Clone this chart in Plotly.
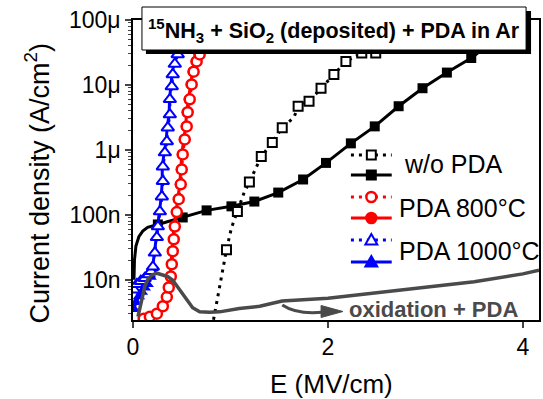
import plotly.graph_objects as go

# ---------------- data ----------------
# w/o PDA, solid line with filled squares
wo_solid_line_x = [0.01, 0.015, 0.03, 0.06, 0.10, 0.15, 0.255, 0.51, 0.755, 1.01, 1.245, 1.49, 1.745,
                   1.98, 2.235, 2.48, 2.725, 2.97, 3.22, 3.47, 3.55]
wo_solid_line_y = [1.0e-8, 2.0e-8, 3.3e-8, 4.6e-8, 5.6e-8, 6.4e-8, 7.1e-8, 9.1e-8, 1.17e-7, 1.35e-7, 1.6e-7,
                   2.2e-7, 3.5e-7, 6.3e-7, 1.26e-6, 2.3e-6, 4.7e-6, 8.9e-6, 1.55e-5, 2.6e-5, 3.2e-5]
wo_solid_mark_x = [0.255, 0.51, 0.755, 1.01, 1.245, 1.49, 1.745, 1.98, 2.235, 2.48, 2.725, 2.97, 3.22, 3.47]
wo_solid_mark_y = [7.1e-8, 9.1e-8, 1.17e-7, 1.35e-7, 1.6e-7, 2.2e-7, 3.5e-7, 6.3e-7, 1.26e-6, 2.3e-6,
                   4.7e-6, 8.9e-6, 1.55e-5, 2.6e-5]

# w/o PDA, dotted line with open squares
wo_dot_line_x = [0.826, 0.888, 0.939, 0.959, 1.01, 1.071, 1.14, 1.194, 1.316, 1.429, 1.531, 1.653, 1.694,
                 1.806, 1.929, 2.061, 2.184, 2.347, 2.49]
wo_dot_line_y = [2.42e-9, 7.8e-9, 2.0e-8, 2.9e-8, 6.3e-8, 1.12e-7, 2.2e-7, 3.2e-7, 7.9e-7, 1.3e-6, 2.2e-6,
                 3.2e-6, 4.7e-6, 5.6e-6, 8.9e-6, 1.45e-5, 2.3e-5, 3.1e-5, 3.1e-5]
wo_dot_mark_x = [0.959, 1.071, 1.194, 1.316, 1.429, 1.531, 1.694, 1.806, 1.929, 2.061, 2.184, 2.347, 2.49]
wo_dot_mark_y = [2.9e-8, 1.12e-7, 3.2e-7, 7.9e-7, 1.3e-6, 2.2e-6, 4.7e-6, 5.6e-6, 8.9e-6, 1.45e-5, 2.3e-5,
                 3.1e-5, 3.1e-5]

# PDA 800 C (open circles dotted / filled circles solid)
r800_open_x = [0.11, 0.173, 0.245, 0.306, 0.347, 0.367, 0.388, 0.398, 0.408, 0.418, 0.429, 0.449, 0.469,
               0.49, 0.50, 0.51, 0.531, 0.551, 0.561, 0.582, 0.602, 0.622, 0.653, 0.684]
r800_open_y = [2.5e-9, 2.7e-9, 3.0e-9, 3.9e-9, 5.4e-9, 7.6e-9, 1.12e-8, 1.73e-8, 2.75e-8, 4.2e-8, 6.6e-8,
               1.1e-7, 1.74e-7, 2.95e-7, 5.0e-7, 8.5e-7, 1.45e-6, 2.3e-6, 3.8e-6, 6.0e-6, 1.02e-5, 1.6e-5,
               2.3e-5, 2.95e-5]
r800_fill_x = [0.12, 0.18, 0.25, 0.30, 0.34, 0.36, 0.38, 0.39, 0.40, 0.41, 0.42, 0.44, 0.46, 0.48, 0.49,
               0.50, 0.52, 0.54, 0.55, 0.57, 0.59, 0.61, 0.64, 0.67]
r800_fill_y = r800_open_y

# PDA 1000 C (open triangles dotted / filled triangles solid)
b1000_open_x = [0.01, 0.04, 0.08, 0.12, 0.16, 0.185, 0.204, 0.224, 0.245, 0.255, 0.276, 0.296, 0.306,
                0.306, 0.327, 0.347, 0.357, 0.378, 0.378, 0.398, 0.408, 0.429, 0.459]
b1000_open_y = [7.0e-9, 8.5e-9, 9.5e-9, 1.05e-8, 1.2e-8, 1.35e-8, 1.58e-8, 2.6e-8, 4.5e-8, 6.6e-8, 1.12e-7,
                1.9e-7, 3.3e-7, 5.5e-7, 9.1e-7, 1.35e-6, 2.2e-6, 3.5e-6, 6.0e-6, 9.5e-6, 1.45e-5, 2.1e-5,
                2.95e-5]
b1000_fill_x = [0.01, 0.03, 0.06, 0.09, 0.12, 0.15, 0.18, 0.20, 0.22, 0.24, 0.25, 0.27, 0.29, 0.30, 0.30,
                0.32, 0.34, 0.35, 0.37, 0.375, 0.39, 0.40, 0.42, 0.45]
b1000_fill_y = [3.5e-9, 4.5e-9, 5.5e-9, 6.5e-9, 7.5e-9, 8.5e-9, 1.1e-8, 1.5e-8, 2.6e-8, 4.5e-8, 6.6e-8,
                1.12e-7, 1.9e-7, 3.3e-7, 5.5e-7, 9.1e-7, 1.35e-6, 2.2e-6, 3.5e-6, 6.0e-6, 9.5e-6, 1.45e-5,
                2.1e-5, 2.95e-5]

# oxidation + PDA (grey line)
ox_x = [0.051, 0.071, 0.092, 0.122, 0.153, 0.194, 0.245, 0.296, 0.357, 0.408, 0.459, 0.51, 0.561, 0.612,
        0.684, 0.786, 0.888, 1.09, 1.30, 1.53, 2.0, 2.5, 3.0, 3.5, 4.0, 4.165]
ox_y = [2.7e-9, 3.7e-9, 5.0e-9, 8.0e-9, 1.02e-8, 1.18e-8, 1.26e-8, 1.2e-8, 1.12e-8, 9.8e-9, 7.6e-9, 5.9e-9,
        4.7e-9, 3.7e-9, 3.2e-9, 3.15e-9, 3.2e-9, 3.6e-9, 3.9e-9, 4.7e-9, 5.2e-9, 6.3e-9, 7.6e-9, 9.3e-9,
        1.23e-8, 1.4e-8]

y_tickvals = [1e-8, 1e-7, 1e-6, 1e-5, 1e-4]
y_ticktext = ["10n", "100n", "1μ", "10μ", "100μ"]
x_tickvals = [0, 2, 4]

legend_labels = ["w/o PDA", "PDA 800°C", "PDA 1000°C"]

# ---------------- figure ----------------
W, H = 543, 399
L, R, T, B = 133, 2, 20, 79
PW, PH = W - L - R, H - T - B
FONT = "Liberation Sans, Arial, sans-serif"
DOT = "3px,5px"
RED = "#ff0000"
BLUE = "#0000ff"
GREY = "#4a4a4a"

# minor log ticks (2..9 in every decade)
minor_vals = [m * 10.0 ** e for e in range(-9, -4) for m in range(2, 10)]


def px(xp):
    return (xp - L) / PW


def py(yp):
    return (H - B - yp) / PH


fig = go.Figure()

# black solid
fig.add_trace(go.Scatter(x=wo_solid_line_x, y=wo_solid_line_y, mode="lines",
                         line=dict(color="black", width=3), showlegend=False))
fig.add_trace(go.Scatter(x=wo_solid_mark_x, y=wo_solid_mark_y, mode="markers",
                         marker=dict(symbol="square", size=10, color="black"), showlegend=False))
# black dotted
fig.add_trace(go.Scatter(x=wo_dot_line_x, y=wo_dot_line_y, mode="lines",
                         line=dict(color="black", width=3, dash=DOT), showlegend=False))
fig.add_trace(go.Scatter(x=wo_dot_mark_x, y=wo_dot_mark_y, mode="markers",
                         marker=dict(symbol="square", size=9, color="white",
                                     line=dict(color="black", width=2)), showlegend=False))
# red
fig.add_trace(go.Scatter(x=r800_fill_x, y=r800_fill_y, mode="lines+markers",
                         line=dict(color=RED, width=3),
                         marker=dict(symbol="circle", size=10, color=RED), showlegend=False))
fig.add_trace(go.Scatter(x=r800_open_x, y=r800_open_y, mode="lines+markers",
                         line=dict(color=RED, width=3, dash=DOT),
                         marker=dict(symbol="circle", size=10, color="white",
                                     line=dict(color=RED, width=2.5)), showlegend=False))
# blue
fig.add_trace(go.Scatter(x=b1000_fill_x, y=b1000_fill_y, mode="lines+markers",
                         line=dict(color=BLUE, width=3),
                         marker=dict(symbol="triangle-up", size=11, color=BLUE), showlegend=False))
fig.add_trace(go.Scatter(x=b1000_open_x, y=b1000_open_y, mode="lines+markers",
                         line=dict(color=BLUE, width=3, dash=DOT),
                         marker=dict(symbol="triangle-up", size=11, color="white",
                                     line=dict(color=BLUE, width=2)), showlegend=False))
# grey
fig.add_trace(go.Scatter(x=ox_x, y=ox_y, mode="lines", line=dict(color=GREY, width=3.5),
                         showlegend=False))

shapes = []
annotations = []

# title box with shadow
shapes.append(dict(type="rect", xref="paper", yref="paper", x0=px(146), x1=px(533), y0=py(54), y1=py(11),
                   fillcolor="black", line=dict(width=0), layer="above"))
shapes.append(dict(type="rect", xref="paper", yref="paper", x0=px(142), x1=px(528), y0=py(50), y1=py(7),
                   fillcolor="white", line=dict(color="black", width=1), layer="above"))
annotations.append(dict(xref="paper", yref="paper", x=px(335), y=py(30), xanchor="center", yanchor="middle",
                        text="<b><sup>15</sup>NH<sub>3</sub> + SiO<sub>2</sub> (deposited) + PDA in Ar</b>",
                        showarrow=False, font=dict(size=21.5, color="black", family=FONT)))

# custom legend
rows = [
    (155, "black", DOT, "sq_open"), (175, "black", "solid", "sq_fill"),
    (197, RED, DOT, "ci_open"), (218, RED, "solid", "ci_fill"),
    (240, BLUE, DOT, "tr_open"), (262, BLUE, "solid", "tr_fill"),
]
lx0, lx1, lxc = 352, 393, 372.5
for yr, col, dash, sym in rows:
    shapes.append(dict(type="line", xref="paper", yref="paper", x0=px(lx0), x1=px(lx1), y0=py(yr), y1=py(yr),
                       line=dict(color=col, width=3, dash=dash), layer="above"))
    if sym.startswith("sq"):
        s = 4.5
        shapes.append(dict(type="rect", xref="paper", yref="paper", x0=px(lxc - s), x1=px(lxc + s),
                           y0=py(yr + s), y1=py(yr - s),
                           fillcolor="white" if sym.endswith("open") else col,
                           line=dict(color=col, width=2), layer="above"))
    elif sym.startswith("ci"):
        s = 5
        shapes.append(dict(type="circle", xref="paper", yref="paper", x0=px(lxc - s), x1=px(lxc + s),
                           y0=py(yr + s), y1=py(yr - s),
                           fillcolor="white" if sym.endswith("open") else col,
                           line=dict(color=col, width=2.5), layer="above"))
    else:
        s = 6
        path = "M{:.5f},{:.5f} L{:.5f},{:.5f} L{:.5f},{:.5f} Z".format(
            px(lxc - s), py(yr + s * 0.75), px(lxc + s), py(yr + s * 0.75), px(lxc), py(yr - s))
        shapes.append(dict(type="path", xref="paper", yref="paper", path=path,
                           fillcolor="white" if sym.endswith("open") else col,
                           line=dict(color=col, width=2), layer="above"))

legend_pos = [(403, 164), (398, 208), (398, 251)]
for (xl, yl), lab in zip(legend_pos, legend_labels):
    annotations.append(dict(xref="paper", yref="paper", x=px(xl), y=py(yl), xanchor="left", yanchor="middle",
                            text=lab, showarrow=False, font=dict(size=25, color="black", family=FONT)))

# oxidation + PDA label and curved arrow
annotations.append(dict(xref="paper", yref="paper", x=px(348), y=py(309), xanchor="left", yanchor="middle",
                        text="<b>oxidation + PDA</b>", showarrow=False,
                        font=dict(size=22, color=GREY, family=FONT)))
shapes.append(dict(type="path", xref="paper", yref="paper",
                   path="M{:.5f},{:.5f} Q{:.5f},{:.5f} {:.5f},{:.5f}".format(
                       px(283), py(305), px(298), py(315), px(325), py(312)),
                   line=dict(color=GREY, width=3), layer="above"))
shapes.append(dict(type="path", xref="paper", yref="paper",
                   path="M{:.5f},{:.5f} L{:.5f},{:.5f} L{:.5f},{:.5f} Z".format(
                       px(322), py(305.5), px(344), py(311.5), px(322), py(317.5)),
                   fillcolor=GREY, line=dict(color=GREY, width=1), layer="above"))

# axis titles
annotations.append(dict(xref="paper", yref="paper", x=px(37), y=py(183), xanchor="center", yanchor="middle",
                        text="Current density (A/cm<sup>2</sup>)", textangle=-90, showarrow=False,
                        font=dict(size=27, color="black", family=FONT)))
annotations.append(dict(xref="paper", yref="paper", x=px(332), y=py(384), xanchor="center", yanchor="middle",
                        text="E (MV/cm)", showarrow=False, font=dict(size=26, color="black", family=FONT)))

fig.update_layout(
    width=W, height=H, margin=dict(l=L, r=R, t=T, b=B, pad=0),
    paper_bgcolor="white", plot_bgcolor="white",
    font=dict(family=FONT, size=22, color="black"),
    shapes=shapes, annotations=annotations, showlegend=False,
    xaxis=dict(range=[0, 4.165], tickvals=x_tickvals, ticks="outside", ticklen=6, tickwidth=1.5,
               showline=True, linecolor="black", linewidth=1.5, mirror=True, showgrid=False,
               zeroline=False, tickfont=dict(size=23)),
    yaxis=dict(type="log", range=[-8.62, -4.0], tickvals=y_tickvals, ticktext=y_ticktext,
               ticks="outside", ticklen=6, tickwidth=1.5,
               minor=dict(ticks="outside", ticklen=3, tickwidth=1, tickvals=minor_vals, showgrid=False),
               showline=True, linecolor="black", linewidth=1.5, mirror=True, showgrid=False,
               zeroline=False, tickfont=dict(size=23)),
)

fig.write_html("out.html")
